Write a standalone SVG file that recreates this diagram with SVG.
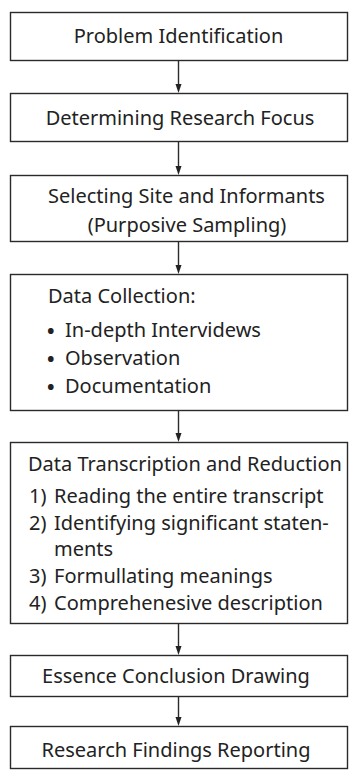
<svg xmlns="http://www.w3.org/2000/svg" width="351" height="776" viewBox="0 0 351 776">
<defs>
<style>
.box{fill:#fff;stroke:#2a2a2a;stroke-width:1.4}
.t{font-family:"Noto Sans","Open Sans",sans-serif;font-size:20px;fill:#222}
.b{font-weight:bold}
.c{text-anchor:middle}
.ln{stroke:#2a2a2a;stroke-width:1.4;fill:none}
.hd{fill:#222}
</style>
</defs>
<rect width="351" height="776" fill="#fff"/>
<g id="connectors">
<line class="ln" x1="178.5" y1="61" x2="178.5" y2="85"/>
<polygon class="hd" points="175.5,84 181.5,84 178.5,93"/>
<line class="ln" x1="178.5" y1="142" x2="178.5" y2="167"/>
<polygon class="hd" points="175.5,166 181.5,166 178.5,175"/>
<line class="ln" x1="178.5" y1="242" x2="178.5" y2="266"/>
<polygon class="hd" points="175.5,265 181.5,265 178.5,274"/>
<line class="ln" x1="178.5" y1="411" x2="178.5" y2="434"/>
<polygon class="hd" points="175.5,433 181.5,433 178.5,442"/>
<line class="ln" x1="178.5" y1="624" x2="178.5" y2="647"/>
<polygon class="hd" points="175.5,646 181.5,646 178.5,655"/>
<line class="ln" x1="178.5" y1="697" x2="178.5" y2="718"/>
<polygon class="hd" points="175.5,717 181.5,717 178.5,726"/>
</g>
<g id="n1">
<rect class="box" x="10.5" y="12.5" width="337" height="48"/>
<text class="t c" x="178.5" y="43">Problem Identification</text>
</g>
<g id="n2">
<rect class="box" x="10.5" y="93.5" width="337" height="48"/>
<text class="t c" x="180" y="125">Determining Research Focus</text>
</g>
<g id="n3">
<rect class="box" x="10.5" y="175.5" width="337" height="66"/>
<text class="t c" x="186.5" y="203">Selecting Site and Informants</text>
<text class="t c" x="187" y="232">(Purposive Sampling)</text>
</g>
<g id="n4">
<rect class="box" x="10.5" y="274.5" width="337" height="136"/>
<text class="t" x="48" y="303">Data Collection:</text>
<text class="t b" x="47" y="338">•</text>
<text class="t" x="65" y="337">In-depth Intervidews</text>
<text class="t b" x="47" y="366">•</text>
<text class="t" x="65" y="365">Observation</text>
<text class="t b" x="47" y="394">•</text>
<text class="t" x="65" y="393">Documentation</text>
</g>
<g id="n5">
<rect class="box" x="10.5" y="442.5" width="337" height="181"/>
<text class="t" x="28" y="471">Data Transcription and Reduction</text>
<text class="t" x="29" y="503">1)</text>
<text class="t" x="54" y="503">Reading the entire transcript</text>
<text class="t" x="29" y="530">2)</text>
<text class="t" x="54" y="530">Identifying significant staten-</text>
<text class="t" x="54" y="556">ments</text>
<text class="t" x="29" y="583">3)</text>
<text class="t" x="54" y="583">Formullating meanings</text>
<text class="t" x="29" y="610">4)</text>
<text class="t" x="54" y="610">Comprehenesive description</text>
</g>
<g id="n6">
<rect class="box" x="10.5" y="655.5" width="337" height="41"/>
<text class="t c" x="176" y="683">Essence Conclusion Drawing</text>
</g>
<g id="n7">
<rect class="box" x="10.5" y="726.5" width="337" height="42"/>
<text class="t c" x="176" y="757">Research Findings Reporting</text>
</g>
</svg>
